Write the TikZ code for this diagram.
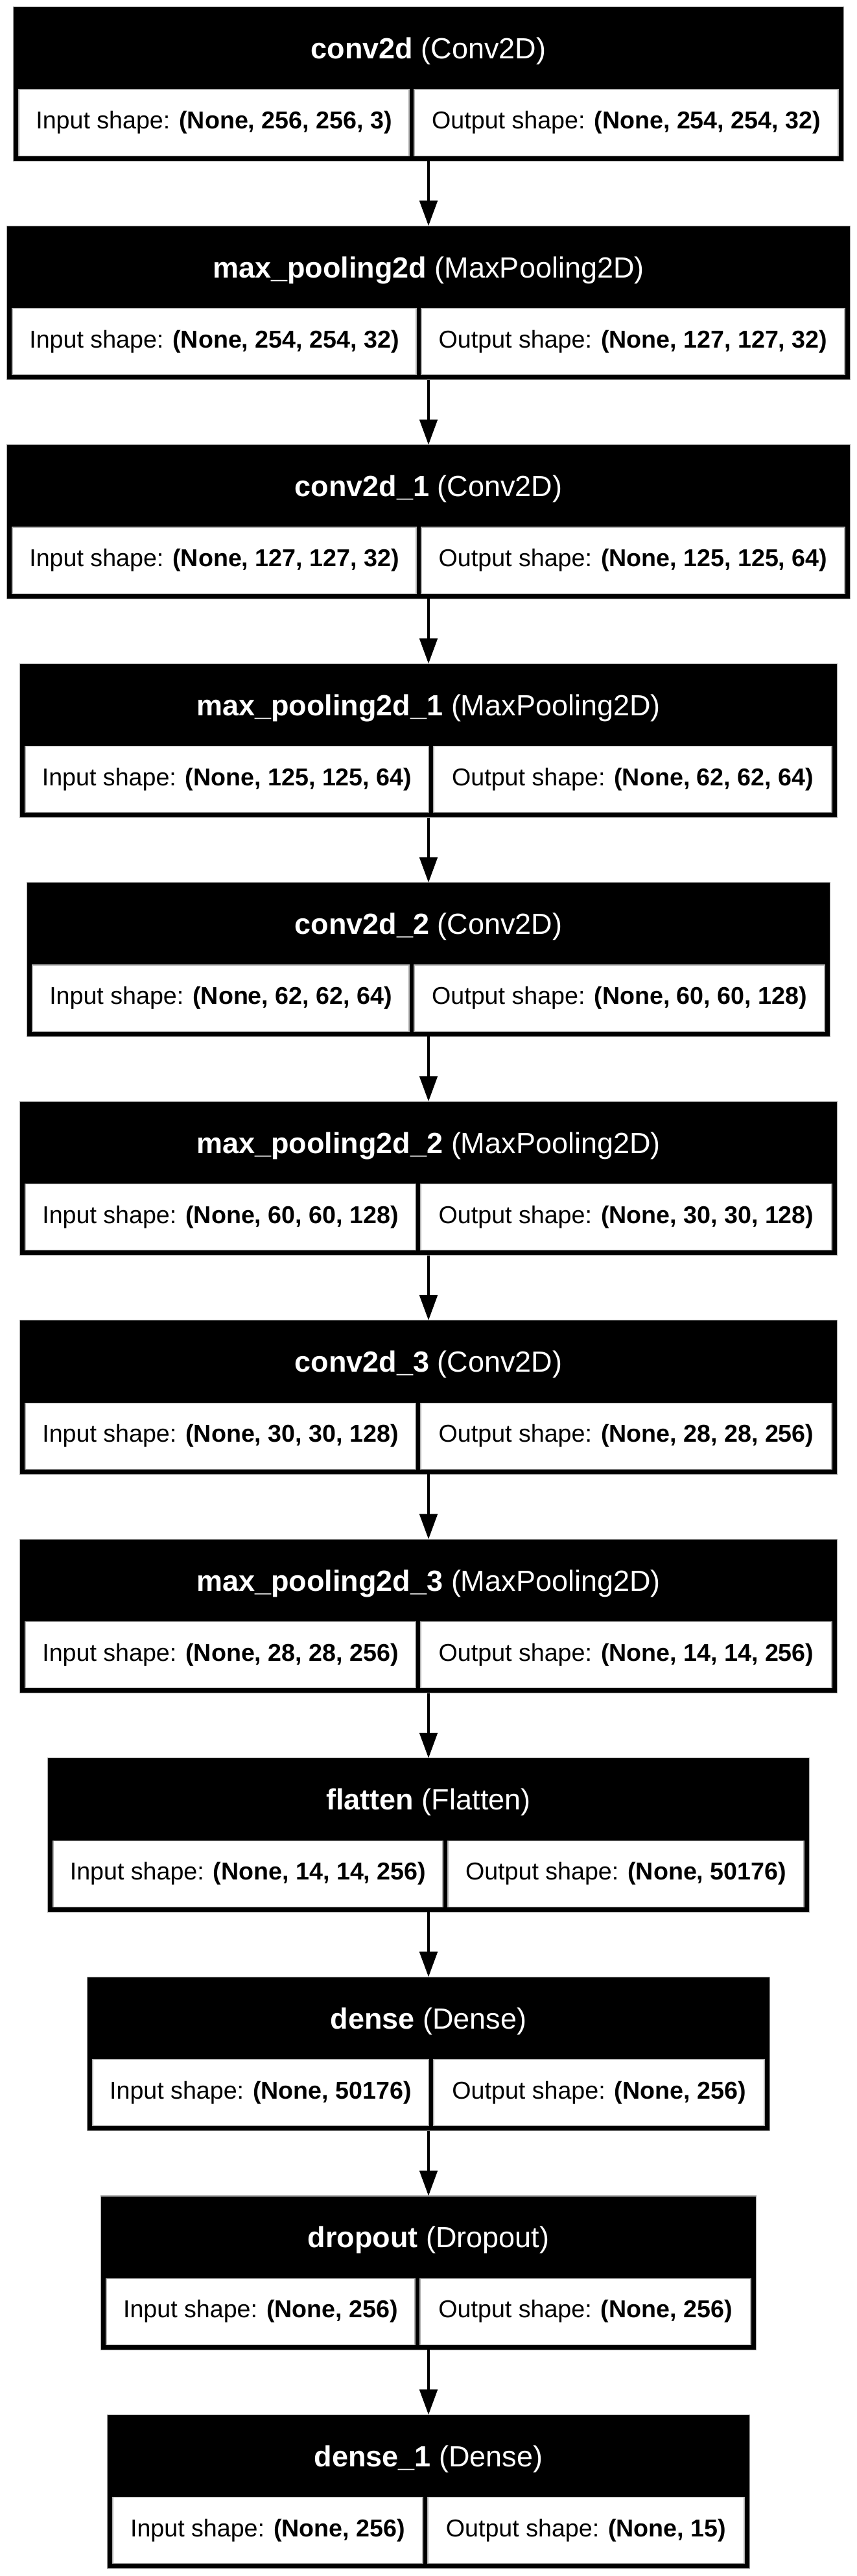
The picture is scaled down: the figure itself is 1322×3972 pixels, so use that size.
\documentclass[tikz,border=0pt]{standalone}
\usepackage{fontspec}
\setmainfont{Liberation Sans}
\usetikzlibrary{arrows.meta}
\usetikzlibrary{positioning}

\begin{document}
\begin{tikzpicture}[x=0.01cm,y=-0.01cm,
        layer/.style={fill=black,draw=gray!70,line width=0.3pt,inner sep=0pt,outer sep=0pt,minimum height=2.37cm},
        head/.style={text=white,inner sep=0pt,font=\fontsize{12.8}{15}\selectfont},
        cell/.style={fill=white,draw=gray!60,line width=0.3pt,inner sep=0pt,outer sep=0pt,anchor=north west,minimum height=1.02cm,font=\fontsize{10.7}{13}\selectfont},
        flow/.style={line width=1.4pt,-{Triangle[length=11.1pt,width=7.7pt]}}]
    \useasboundingbox (0,0) rectangle (1322,3972);

    % one block per layer: black frame, title, input and output cells
    \foreach \k/\nm/\cls/\inp/\outp/\hw/\dv in {
        0/conv2d/Conv2D/{None, 256, 256, 3}/{None, 254, 254, 32}/640/-26,
        1/max\_pooling2d/MaxPooling2D/{None, 254, 254, 32}/{None, 127, 127, 32}/650/-15,
        2/conv2d\_1/Conv2D/{None, 127, 127, 32}/{None, 125, 125, 64}/650/-15,
        3/max\_pooling2d\_1/MaxPooling2D/{None, 125, 125, 64}/{None, 62, 62, 64}/630/4,
        4/conv2d\_2/Conv2D/{None, 62, 62, 64}/{None, 60, 60, 128}/619/-26,
        5/max\_pooling2d\_2/MaxPooling2D/{None, 60, 60, 128}/{None, 30, 30, 128}/630/-16,
        6/conv2d\_3/Conv2D/{None, 30, 30, 128}/{None, 28, 28, 256}/630/-16,
        7/max\_pooling2d\_3/MaxPooling2D/{None, 28, 28, 256}/{None, 14, 14, 256}/630/-16,
        8/flatten/Flatten/{None, 14, 14, 256}/{None, 50176}/587/26,
        9/dense/Dense/{None, 50176}/{None, 256}/526/4,
        10/dropout/Dropout/{None, 256}/{None, 256}/505/-17,
        11/dense\_1/Dense/{None, 256}/{None, 15}/495/-5}
    {
        \pgfmathsetmacro\yt{11+337.5*\k}
        \node[layer,minimum width=0.02cm*\hw] (L\k) at (661,\yt+118.5) {};
        \node[head] (head\k) at (661,\yt+68) {\textbf{\nm} (\cls)};
        \node[cell,minimum width=0.01cm*(\hw+(\dv)-12)] (in\k) at (661-\hw+8,\yt+127) {Input shape: \textbf{(\inp)}};
        \node[cell,minimum width=0.01cm*(\hw-(\dv)-12)] (out\k) at (661+\dv+4,\yt+127) {Output shape: \textbf{(\outp)}};
    }

    \foreach \k in {1,...,11} {
        \pgfmathtruncatemacro\j{\k-1}
        \draw[flow] (L\j.south) -- (L\k.north);
    }
\end{tikzpicture}
\end{document}
